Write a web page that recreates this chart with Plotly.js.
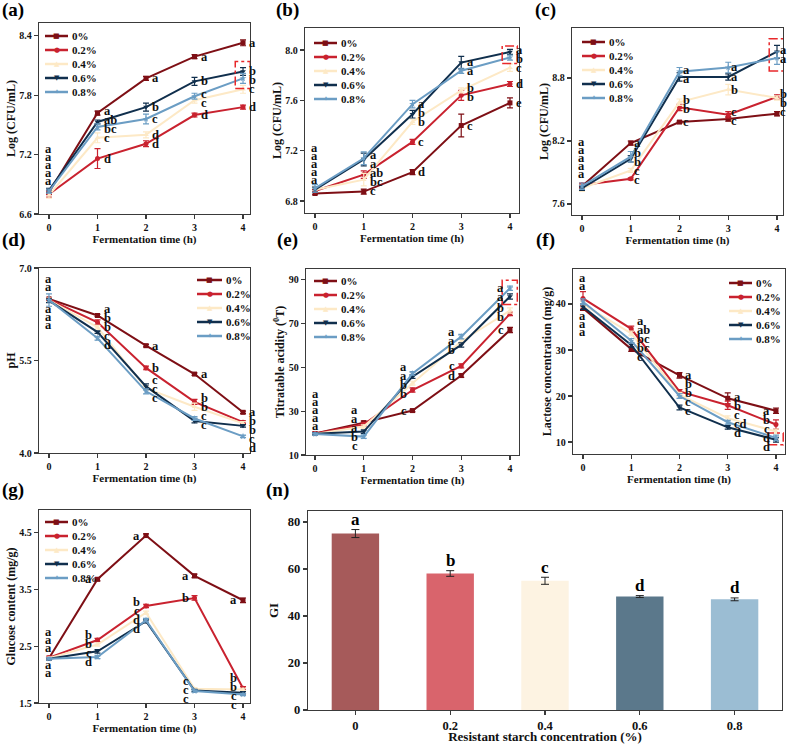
<!DOCTYPE html>
<html>
<head>
<meta charset="utf-8">
<script src="https://cdn.plot.ly/plotly-3.0.1.min.js"></script>
<style>
  html, body { margin: 0; padding: 0; background: #fff; }
  #chart { width: 787px; height: 744px; }
</style>
</head>
<body>
<div id="chart"></div>
<script>
// ---- shared series description ----
const hours = [0, 1, 2, 3, 4];
const levels = ['0%', '0.2%', '0.4%', '0.6%', '0.8%'];
const lineColors = ['#7e0f15', '#c9222f', '#fde9c6', '#102f4d', '#6b9dc4'];
const symbols = ['square', 'circle', 'triangle-up', 'triangle-down', 'star'];
const legendGlyphs = ['\u25A0', '\u25CF', '\u25B2', '\u25BC', '\u2726'];

// ---- (a) Log (CFU/mL), first strain ----
const cfuA = [
  [6.82, 7.62, 7.97, 8.19, 8.33],
  [6.80, 7.16, 7.31, 7.60, 7.68],
  [6.79, 7.37, 7.40, 7.75, 7.86],
  [6.84, 7.53, 7.68, 7.94, 8.04],
  [6.83, 7.48, 7.56, 7.79, 7.97]
];
const cfuAErr = [
  [0.02, 0.02, 0.02, 0.02, 0.03],
  [0.03, 0.10, 0.03, 0.02, 0.02],
  [0.03, 0.05, 0.03, 0.03, 0.04],
  [0.02, 0.02, 0.04, 0.04, 0.04],
  [0.02, 0.03, 0.05, 0.03, 0.05]
];
const cfuALetters = [
  ['a', 'a', 'a', 'a'],
  ['d', 'd', 'd', 'd'],
  ['c', 'd', 'c', 'c'],
  ['ab', 'b', 'b', 'b'],
  ['bc', 'c', 'c', 'b']
];

// ---- (b) Log (CFU/mL), second strain ----
const cfuB = [
  [6.86, 6.875, 7.03, 7.40, 7.58],
  [6.88, 7.01, 7.27, 7.64, 7.73],
  [6.89, 6.97, 7.43, 7.68, 7.86],
  [6.89, 7.13, 7.49, 7.90, 7.985],
  [6.90, 7.14, 7.57, 7.835, 7.94]
];
const cfuBErr = [
  [0.01, 0.02, 0.02, 0.09, 0.04],
  [0.01, 0.03, 0.02, 0.04, 0.02],
  [0.02, 0.05, 0.02, 0.02, 0.03],
  [0.02, 0.05, 0.03, 0.05, 0.02],
  [0.03, 0.05, 0.03, 0.02, 0.02]
];
const cfuBLetters = [
  ['c', 'd', 'c', 'e'],
  ['ab', 'c', 'b', 'd'],
  ['bc', 'b', 'b', 'c'],
  ['a', 'b', 'a', 'a'],
  ['a', 'a', 'a', 'b']
];

// ---- (c) Log (CFU/mL), third strain ----
const cfuC = [
  [7.77, 8.18, 8.38, 8.41, 8.46],
  [7.78, 7.84, 8.52, 8.45, 8.62],
  [7.75, 7.92, 8.57, 8.69, 8.61],
  [7.75, 8.03, 8.81, 8.81, 9.05],
  [7.77, 8.05, 8.86, 8.90, 8.99]
];
const cfuCErr = [
  [0.02, 0.02, 0.01, 0.02, 0.02],
  [0.02, 0.01, 0.03, 0.03, 0.02],
  [0.03, 0.02, 0.03, 0.05, 0.02],
  [0.02, 0.03, 0.04, 0.03, 0.06],
  [0.03, 0.05, 0.04, 0.05, 0.06]
];
const cfuCLetters = [
  ['a', 'c', 'c', 'c'],
  ['c', 'b', 'c', 'b'],
  ['c', 'b', 'b', 'b'],
  ['b', 'a', 'a', 'a'],
  ['b', 'a', 'a', 'a']
];

// ---- (d) pH ----
const phValues = [
  [6.50, 6.23, 5.74, 5.28, 4.66],
  [6.49, 6.12, 5.38, 4.83, 4.50],
  [6.48, 6.04, 5.05, 4.75, 4.48],
  [6.47, 5.96, 5.08, 4.52, 4.44],
  [6.48, 5.86, 5.00, 4.56, 4.27]
];
const phErr = [
  [0.02, 0.02, 0.02, 0.02, 0.02],
  [0.02, 0.04, 0.03, 0.04, 0.02],
  [0.03, 0.03, 0.03, 0.06, 0.03],
  [0.03, 0.02, 0.04, 0.03, 0.02],
  [0.10, 0.03, 0.04, 0.03, 0.02]
];
const phLetters = [
  ['a', 'a', 'a', 'a'],
  ['b', 'b', 'b', 'b'],
  ['b', 'c', 'b', 'b'],
  ['c', 'c', 'c', 'c'],
  ['d', 'c', 'c', 'd']
];

// ---- (e) titratable acidity ----
const acidity = [
  [19.8, 24.8, 30.3, 46.3, 67.1],
  [19.8, 24.0, 39.7, 50.7, 74.5],
  [19.6, 23.0, 42.8, 62.0, 76.0],
  [19.7, 20.7, 45.8, 60.3, 82.4],
  [19.6, 18.4, 47.3, 64.1, 86.2]
];
const acidityErr = [
  [0.5, 0.7, 0.6, 0.8, 1.2],
  [0.5, 0.7, 1.0, 0.9, 0.8],
  [0.5, 0.8, 0.9, 1.0, 1.2],
  [0.5, 0.8, 0.8, 1.0, 1.2],
  [0.5, 0.8, 0.8, 1.0, 1.0]
];
const acidityLetters = [
  ['a', 'c', 'd', 'c'],
  ['a', 'b', 'c', 'b'],
  ['a', 'b', 'a', 'b'],
  ['b', 'a', 'b', 'a'],
  ['c', 'a', 'a', 'a']
];

// ---- (f) lactose concentration ----
const lactose = [
  [39.1, 30.2, 24.5, 19.5, 16.8],
  [41.2, 34.6, 21.0, 18.0, 13.8],
  [39.9, 33.6, 20.3, 15.2, 12.3],
  [39.4, 31.1, 17.5, 13.2, 10.5],
  [40.5, 32.0, 20.0, 14.3, 10.9]
];
const lactoseErr = [
  [0.5, 0.5, 0.6, 1.2, 0.6],
  [1.5, 0.6, 0.4, 0.9, 1.0],
  [0.6, 0.5, 0.5, 0.5, 0.5],
  [0.6, 0.5, 0.5, 0.4, 0.5],
  [0.6, 0.5, 0.5, 0.4, 0.6]
];
const lactoseLetters = [
  ['c', 'a', 'a', 'a'],
  ['a', 'b', 'b', 'b'],
  ['ab', 'b', 'c', 'c'],
  ['bc', 'c', 'd', 'd'],
  ['bc', 'c', 'cd', 'd']
];

// ---- (g) glucose content ----
const glucose = [
  [2.29, 3.68, 4.45, 3.74, 3.31],
  [2.30, 2.61, 3.21, 3.35, 1.76],
  [2.29, 2.53, 3.09, 1.75, 1.74],
  [2.28, 2.41, 2.94, 1.72, 1.68],
  [2.28, 2.31, 2.96, 1.71, 1.65]
];
const glucoseErr = [
  [0.02, 0.03, 0.03, 0.03, 0.04],
  [0.02, 0.03, 0.03, 0.04, 0.03],
  [0.02, 0.03, 0.03, 0.02, 0.02],
  [0.02, 0.03, 0.03, 0.02, 0.02],
  [0.02, 0.03, 0.03, 0.02, 0.02]
];
const glucoseLetters = [
  ['a', 'a', 'a', 'a'],
  ['b', 'b', 'b', 'b'],
  ['b', 'c', 'c', 'b'],
  ['c', 'd', 'c', 'c'],
  ['d', 'd', 'c', 'c']
];

// ---- (n) GI by resistant starch level ----
const giLevels = ['0', '0.2', '0.4', '0.6', '0.8'];
const giValues = [75.1, 58.1, 55.0, 48.3, 47.1];
const giErr = [1.7, 1.2, 1.5, 0.4, 0.6];
const giLetters = ['a', 'b', 'c', 'd', 'd'];
const barColors = ['#a65a5a', '#d9646c', '#fdf3e2', '#5b788b', '#9bbdd3'];

// ---- page geometry ----
const W = 787, H = 744;
const SERIF = 'Liberation Serif, Times New Roman, serif';
const bold = (size, color) => ({ family: SERIF, size: size, color: color || '#111', weight: 'bold' });

// frame = [left, right, top, bottom] in page pixels
const panels = [
  { tag: '(a)', tagAt: [13, 10], values: cfuA, errors: cfuAErr, letters: cfuALetters,
    frame: [39, 250, 23, 214], xr: [-0.206, 4.144], yr: [6.6, 8.53], tick0: 6.6, dtick: 0.6, fmt: '.1f',
    ytitle: 'Log (CFU/mL)', legend: [45, 68, 36], above: 5, below: 0, stackStart: 9,
    sides: 'rrrr', nudge: 4, box: 10 },
  { tag: '(b)', tagAt: [287, 10], values: cfuB, errors: cfuBErr, letters: cfuBLetters,
    frame: [305, 519, 28, 213], xr: [-0.205, 4.185], yr: [6.705, 8.175], tick0: 6.8, dtick: 0.4, fmt: '.1f',
    ytitle: 'Log (CFU/mL)', legend: [314, 337, 43], above: 5, below: 0, stackStart: 8,
    sides: 'rrrr', nudge: 4, box: 6 },
  { tag: '(c)', tagAt: [545, 10], values: cfuC, errors: cfuCErr, letters: cfuCLetters,
    frame: [572, 783, 28, 215], xr: [-0.205, 4.123], yr: [7.495, 9.276], tick0: 7.6, dtick: 0.6, fmt: '.1f',
    ytitle: 'Log (CFU/mL)', legend: [582, 605, 42], above: 5, below: 0, stackStart: 11,
    sides: 'rrrr', nudge: 1, box: 13 },
  { tag: '(d)', tagAt: [13, 240], values: phValues, errors: phErr, letters: phLetters,
    frame: [39, 250, 268, 453], xr: [-0.206, 4.144], yr: [4, 7], tick0: 4, dtick: 1.5, fmt: '.1f',
    ytitle: 'pH', legend: [197, 222, 280], above: 2, below: 3, stackStart: 12,
    sides: 'rrrr', nudge: 4, box: null },
  { tag: '(e)', tagAt: [287, 240], values: acidity, errors: acidityErr, letters: acidityLetters,
    frame: [306, 519, 269, 455], xr: [-0.185, 4.185], yr: [10, 95], tick0: 10, dtick: 20, fmt: 'd',
    ytitle: 'Titratable acidity (<sup>0</sup>T)', legend: [314, 337, 281], above: 5, below: 0, stackStart: 8,
    sides: 'llll', nudge: 4, box: 8 },
  { tag: '(f)', tagAt: [545, 240], values: lactose, errors: lactoseErr, letters: lactoseLetters,
    frame: [573, 785, 269, 454], xr: [-0.207, 4.187], yr: [7.4, 47.6], tick0: 10, dtick: 10, fmt: 'd',
    ytitle: 'Lactose concentration (mg/g)', legend: [729, 752, 283], above: 2, below: 3, stackStart: 12,
    sides: 'rrrl', nudge: 4, box: 5 },
  { tag: '(g)', tagAt: [13, 490], values: glucose, errors: glucoseErr, letters: glucoseLetters,
    frame: [39, 250, 510, 703], xr: [-0.206, 4.144], yr: [1.5, 4.9], tick0: 1.5, dtick: 1, fmt: '.1f',
    ytitle: 'Glucose content (mg/g)', legend: [45, 68, 522], above: 3, below: 2, stackStart: 10,
    sides: 'llll', nudge: 4, box: null }
];
const barFrame = [308, 782, 511, 710];

const axisBase = {
  showline: true, mirror: true, linecolor: '#3a3a3a', linewidth: 1.3,
  ticks: 'outside', ticklen: 4, tickwidth: 1.1, tickcolor: '#3a3a3a',
  showgrid: false, zeroline: false, tickfont: bold(10)
};

const traces = [];
const annotations = [];
const shapes = [];
const layout = {
  width: W, height: H,
  margin: { l: 0, r: 0, t: 0, b: 0 },
  paper_bgcolor: '#fff', plot_bgcolor: '#fff',
  showlegend: false,
  font: bold(11)
};

// Spread a column of significance letters so neighbours keep at least `gap` px apart.
function spreadLetters(vals, gap, ppu) {
  const order = vals.map((v, s) => s).sort((a, b) => vals[b] - vals[a]);
  const base = order.map(s => -vals[s] * ppu);
  const pos = base.slice();
  for (let i = 1; i < pos.length; i++) pos[i] = Math.max(pos[i], pos[i - 1] + gap);
  const groups = [];
  let start = 0;
  for (let i = 1; i <= pos.length; i++) {
    if (i === pos.length || pos[i] - pos[i - 1] > gap + 0.01) { groups.push([start, i]); start = i; }
  }
  groups.forEach(([a, b]) => {
    let d = 0;
    for (let i = a; i < b; i++) d += pos[i] - base[i];
    d /= (b - a);
    for (let i = a; i < b; i++) pos[i] -= d;
  });
  for (let i = 1; i < pos.length; i++) pos[i] = Math.max(pos[i], pos[i - 1] + gap);
  const off = [];
  order.forEach((s, k) => { off[s] = pos[k] - base[k]; });
  return off;
}

panels.forEach((p, i) => {
  const n = i + 1;
  const suf = n === 1 ? '' : String(n);
  const xa = 'x' + suf, ya = 'y' + suf;
  const [L, R, T, B] = p.frame;
  const ppu = (B - T) / (p.yr[1] - p.yr[0]);

  layout['xaxis' + suf] = Object.assign({}, axisBase, {
    domain: [L / W, R / W], anchor: ya, range: p.xr,
    tickmode: 'array', tickvals: hours, ticktext: hours.map(String),
    title: { text: 'Fermentation time (h)', font: bold(11), standoff: 2 }
  });
  layout['yaxis' + suf] = Object.assign({}, axisBase, {
    domain: [1 - B / H, 1 - T / H], anchor: xa, range: p.yr,
    tick0: p.tick0, dtick: p.dtick, tickformat: p.fmt,
    title: { text: p.ytitle, font: bold(12), standoff: 1 }
  });

  // one line per resistant-starch level
  levels.forEach((lv, s) => {
    traces.push({
      type: 'scatter', mode: 'lines+markers', name: lv,
      x: hours, y: p.values[s], xaxis: xa, yaxis: ya,
      line: { color: lineColors[s], width: 2 },
      marker: { symbol: symbols[s], size: 5, color: lineColors[s] },
      error_y: { type: 'data', array: p.errors[s], visible: true, color: lineColors[s], thickness: 1.2, width: 3 },
      cliponaxis: false, hoverinfo: 'x+y+name'
    });
  });

  // significance letters at t = 0 stacked above / below the start points
  const start = p.values.map(v => v[0]);
  const hi = Math.max(...start), lo = Math.min(...start);
  for (let k = 0; k < p.above; k++) {
    annotations.push({ xref: xa, yref: ya, x: hours[0], y: hi, yshift: p.stackStart + 8 * (p.above - 1 - k),
      text: 'a', showarrow: false, xanchor: 'center', yanchor: 'middle', font: bold(12.5) });
  }
  for (let k = 0; k < p.below; k++) {
    annotations.push({ xref: xa, yref: ya, x: hours[0], y: lo, yshift: -(p.stackStart - 4 + 8 * k),
      text: 'a', showarrow: false, xanchor: 'center', yanchor: 'middle', font: bold(12.5) });
  }

  // significance letters at t = 1..4 beside each point
  for (let t = 1; t < hours.length; t++) {
    const col = p.values.map(v => v[t]);
    const off = spreadLetters(col, 9, ppu);
    const right = p.sides[t - 1] === 'r';
    col.forEach((v, s) => {
      annotations.push({ xref: xa, yref: ya, x: hours[t], y: v, yshift: -off[s],
        xshift: right ? p.nudge : -4, xanchor: right ? 'left' : 'right', yanchor: 'middle',
        text: p.letters[s][t - 1], showarrow: false, font: bold(12.5) });
    });
  }

  // dashed highlight around the two highest-starch groups at the last time point
  if (p.box !== null) {
    const last = hours.length - 1;
    const v3 = p.values[3][last], v4 = p.values[4][last];
    shapes.push({ type: 'rect', xref: xa, yref: ya,
      x0: hours[last] - 0.16, x1: hours[last] + 0.15,
      y0: Math.min(v3, v4) - p.box / ppu, y1: Math.max(v3, v4) + p.box / ppu,
      line: { color: '#e8282b', width: 1.5, dash: 'dashdot' }, fillcolor: 'rgba(0,0,0,0)' });
  }

  // in-plot key
  const [lx0, lx1, ly0] = p.legend;
  levels.forEach((lv, s) => {
    const y = ly0 + 14 * s;
    shapes.push({ type: 'line', xref: 'paper', yref: 'paper', x0: lx0 / W, x1: lx1 / W, y0: 1 - y / H, y1: 1 - y / H,
      line: { color: lineColors[s], width: 2.5 } });
    annotations.push({ xref: 'paper', yref: 'paper', x: (lx0 + lx1) / 2 / W, y: 1 - y / H,
      text: legendGlyphs[s], showarrow: false, xanchor: 'center', yanchor: 'middle',
      font: { family: 'DejaVu Sans', size: 7, color: lineColors[s] } });
    annotations.push({ xref: 'paper', yref: 'paper', x: (lx1 + 2) / W, y: 1 - y / H,
      text: lv, showarrow: false, xanchor: 'left', yanchor: 'middle', font: bold(11) });
  });

  annotations.push({ xref: 'paper', yref: 'paper', x: p.tagAt[0] / W, y: 1 - p.tagAt[1] / H,
    text: p.tag, showarrow: false, xanchor: 'center', yanchor: 'middle', font: bold(19, '#000') });
});

// ---- (n) GI bar chart ----
{
  const [L, R, T, B] = barFrame;
  layout.xaxis8 = Object.assign({}, axisBase, {
    domain: [L / W, R / W], anchor: 'y8', type: 'category', range: [-0.5, 4.5],
    tickfont: bold(12.5),
    title: { text: 'Resistant starch concentration (%)', font: bold(13), standoff: 4 }
  });
  layout.yaxis8 = Object.assign({}, axisBase, {
    domain: [1 - B / H, 1 - T / H], anchor: 'x8', range: [0, 84.7], tick0: 0, dtick: 20,
    tickfont: bold(12.5),
    title: { text: 'GI', font: bold(13), standoff: 6 }
  });
  traces.push({
    type: 'bar', x: giLevels, y: giValues, xaxis: 'x8', yaxis: 'y8', width: 0.5,
    marker: { color: barColors, line: { width: 0 } },
    error_y: { type: 'data', array: giErr, visible: true, color: '#222', thickness: 1, width: 4 },
    hoverinfo: 'x+y'
  });
  // letters sit above each bar's error cap (category index positions)
  giLevels.forEach((lv, k) => {
    annotations.push({ xref: 'x8', yref: 'y8', x: k, y: giValues[k] + giErr[k], yshift: 10,
      text: giLetters[k], showarrow: false, xanchor: 'center', yanchor: 'middle', font: bold(17, '#000') });
  });
  annotations.push({ xref: 'paper', yref: 'paper', x: 277 / W, y: 1 - 490 / H,
    text: '(n)', showarrow: false, xanchor: 'center', yanchor: 'middle', font: bold(19, '#000') });
}

layout.annotations = annotations;
layout.shapes = shapes;

Plotly.newPlot('chart', traces, layout, { displayModeBar: false, staticPlot: true });
</script>
</body>
</html>
